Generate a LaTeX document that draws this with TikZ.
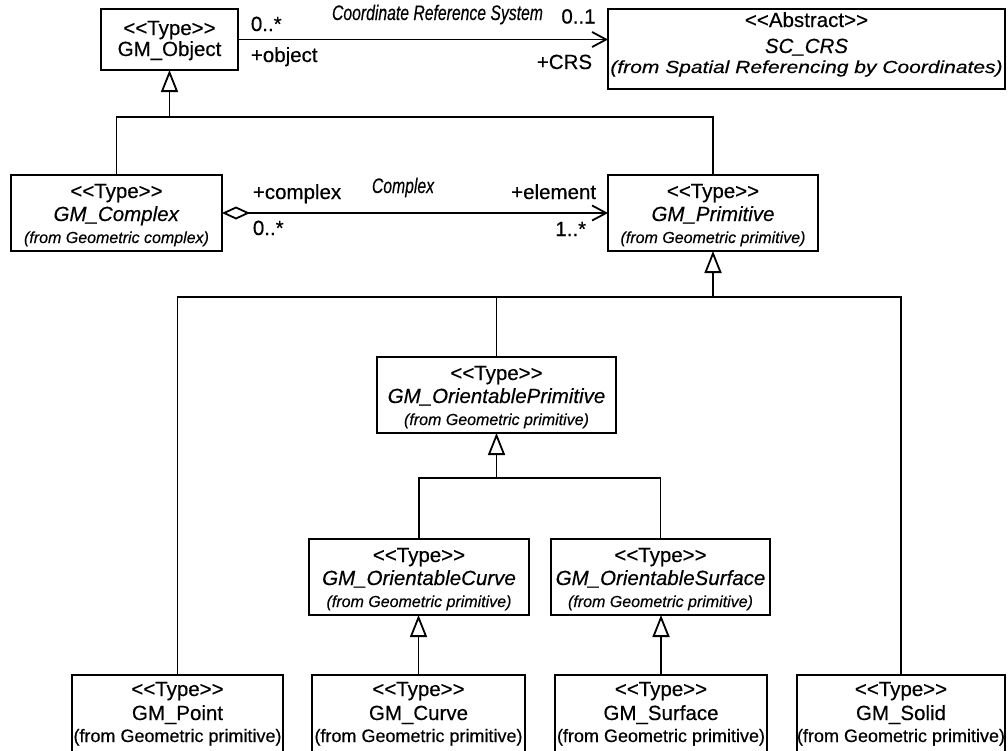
\documentclass[tikz,border=0pt]{standalone}
\usepackage{graphicx}
\usepackage{fontspec}
\setmainfont{Liberation Sans}[FakeBold=0.35]
\usetikzlibrary{arrows.meta}
\newcommand{\mainsz}{\fontsize{20.5}{23}\selectfont}
\newcommand{\stype}{<{}<Type>{}>}
\newcommand{\fromit}[1]{{\fontsize{16}{23}\selectfont\itshape (from #1)}}
\newcommand{\fromrm}[1]{{\fontsize{18}{23}\selectfont (from #1)}}
\newcommand{\assocname}[1]{\scalebox{0.75}[1]{\fontsize{21}{22}\selectfont\itshape #1}}
\begin{document}
\begin{tikzpicture}[x=1pt,y=-1pt, line width=1.8pt,
  cls/.style={draw, rectangle, inner sep=0pt, outer sep=0pt, align=center, anchor=north, font=\mainsz},
  three/.style={minimum height=76pt, text height=68pt, text depth=8pt},
  bottom/.style={minimum height=80pt, text height=67pt, text depth=13pt},
  lbl/.style={inner sep=0pt, font=\mainsz, text height=14pt, text depth=0pt},
  gen/.style={-{Triangle[open, length=22pt, width=17pt]}},
  nav/.style={-{Straight Barb[length=14pt, width=15pt]}},
  agg/.style={{Diamond[open, length=28pt, width=13pt]}-{Straight Barb[length=14pt, width=15pt]}}
]
\fill[white] (0,0) rectangle (1008,750);
\useasboundingbox (0,0) rectangle (1008,750);
\clip (0,0) rectangle (1008,750);

% classes
\node[cls, minimum width=137pt, minimum height=61pt, text height=47pt, text depth=14pt] (obj) at (169.5,9) {\stype\\[-2pt]GM\_Object};
\node[cls, minimum width=397pt, minimum height=80pt, text height=64pt, text depth=16pt] (crs) at (806.5,9)
  {<{}<Abstract>{}>\\[3pt]\textit{SC\_CRS}\\[-3pt]\scalebox{1.2}[1]{{\fontsize{17.5}{23}\selectfont\itshape (from Spatial Referencing by Coordinates)}}};
\node[cls, three, minimum width=211pt] (cplx) at (116.5,175) {\stype\\\textit{GM\_Complex}\\[-1pt]\fromit{Geometric complex}};
\node[cls, three, minimum width=210pt] (prim) at (713,175) {\stype\\\textit{GM\_Primitive}\\[-1pt]\fromit{Geometric primitive}};
\node[cls, three, minimum width=239pt] (oprim) at (496.5,357) {\stype\\\textit{GM\_OrientablePrimitive}\\[-1pt]\fromit{Geometric primitive}};
\node[cls, three, minimum width=220pt] (ocurve) at (419,539) {\stype\\\textit{GM\_OrientableCurve}\\[-1pt]\fromit{Geometric primitive}};
\node[cls, three, minimum width=219pt] (osurf) at (660.5,539) {\stype\\\textit{GM\_OrientableSurface}\\[-1pt]\fromit{Geometric primitive}};
\node[cls, bottom, minimum width=211pt] (point) at (177.5,675) {\stype\\[1pt]GM\_Point\\[-1pt]\fromrm{Geometric primitive}};
\node[cls, bottom, minimum width=213pt] (curve) at (418.5,675) {\stype\\[1pt]GM\_Curve\\[-1pt]\fromrm{Geometric primitive}};
\node[cls, bottom, minimum width=212pt] (surf) at (661,675) {\stype\\[1pt]GM\_Surface\\[-1pt]\fromrm{Geometric primitive}};
\node[cls, bottom, minimum width=208pt] (solid) at (901,675) {\stype\\[1pt]GM\_Solid\\[-1pt]\fromrm{Geometric primitive}};

% generalization GM_Object
\coordinate (j1) at (obj.south |- 0,117);
\draw[gen] (j1) -- (obj.south);
\draw (cplx.north) |- (j1) -| (prim.north);

% association Coordinate Reference System
\draw[nav] (obj.east) -- (obj.east -| crs.west);
\node[lbl, anchor=west] (m1) at (250,24) {0..*};
\node[lbl, anchor=west] (r1) at (250,55) {+object};
\node[lbl] (a1) at (437.5,13) {\assocname{Coordinate Reference System}};
\node[lbl] (m2) at (578.5,16.5) {0..1};
\node[lbl, anchor=east] (r2) at (593,62) {+CRS};

% aggregation Complex
\draw[agg] (cplx.east) -- (cplx.east -| prim.west);
\node[lbl, anchor=west] (r3) at (252,192) {+complex};
\node[lbl, anchor=west] (m3) at (252,228) {0..*};
\node[lbl] (a2) at (403,186) {\assocname{Complex}};
\node[lbl, anchor=east] (r4) at (597,192) {+element};
\node[lbl, anchor=east] (m4) at (587,229) {1..*};

% generalization GM_Primitive
\coordinate (j2) at (prim.south |- 0,297);
\draw[gen] (j2) -- (prim.south);
\draw (point.north) |- (j2) -| (solid.north);
\draw (oprim.north) -- (oprim.north |- j2);

% generalization GM_OrientablePrimitive
\coordinate (j3) at (oprim.south |- 0,478);
\draw[gen] (j3) -- (oprim.south);
\draw (ocurve.north) |- (j3) -| (osurf.north);

% curve / surface
\draw[gen] (curve.north) -- (curve.north |- ocurve.south);
\draw[gen] (surf.north) -- (surf.north |- osurf.south);
\end{tikzpicture}
\end{document}
